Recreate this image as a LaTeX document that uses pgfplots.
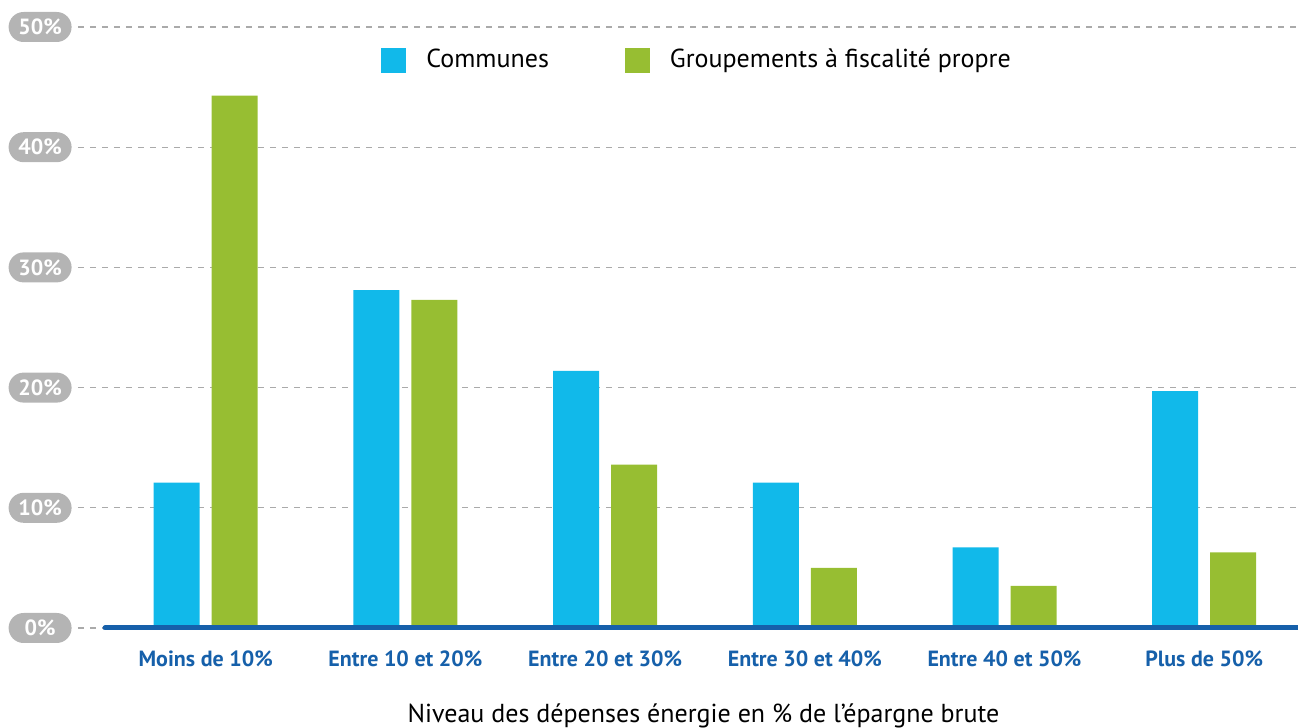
\documentclass[border=0pt]{standalone}
\usepackage{pgfplots}
\pgfplotsset{compat=1.18}
\usepackage{fontspec}
\setmainfont{PT Sans}
\definecolor{cblue}{RGB}{17,185,234}
\definecolor{cgreen}{RGB}{151,190,50}
\definecolor{dblue}{RGB}{22,96,170}
\definecolor{boxgrey}{RGB}{180,180,180}
\definecolor{gridgrey}{RGB}{170,170,170}
\begin{document}
\begin{tikzpicture}
\path[use as bounding box] (-39pt,-50pt) rectangle (610pt,314pt);
\begin{axis}[
  at={(0,0)}, anchor=south west,
  scale only axis, width=610pt, height=300.5pt,
  xmin=-0.6395, xmax=5.4697, ymin=0, ymax=50,
  axis line style={draw=none},
  clip=false,
  ybar, bar width=23pt,
  xtick={0,1,2,3,4,5},
  xticklabels={Moins de 10\%,Entre 10 et 20\%,Entre 20 et 30\%,Entre 30 et 40\%,Entre 40 et 50\%,Plus de 50\%},
  xticklabel style={font=\fontsize{11pt}{13pt}\selectfont\bfseries, text=dblue, anchor=north, inner sep=0pt, yshift=-11pt},
  ytick={0,10,20,30,40,50},
  yticklabels={0\%,10\%,20\%,30\%,40\%,50\%},
  yticklabel style={font=\fontsize{11pt}{13pt}\selectfont\bfseries, text=white, fill=boxgrey, rounded corners=7.5pt, minimum width=31.5pt, minimum height=15pt, inner sep=0pt, anchor=east, xshift=-3pt},
  major tick length=0pt, tick style={draw=none},
  ymajorgrids, grid style={gridgrey, line width=0.6pt, dash pattern=on 3pt off 3pt},
  xlabel={Niveau des dépenses énergie en \% de l’épargne brute},
  xlabel style={at={(axis description cs:0.5127,0)}, anchor=base, yshift=-47.5pt, font=\fontsize{13pt}{15pt}\selectfont},
  legend columns=2,
  legend style={at={(axis description cs:0.2484,0.945)}, anchor=west, draw=none, fill=none, inner sep=0pt,
    font=\fontsize{13pt}{15pt}\selectfont,
    nodes={inner sep=0pt, anchor=west},
    /tikz/every odd column/.append style={column sep=10pt},
    /tikz/every even column/.append style={column sep=38pt}},
  legend image code/.code={\fill[#1] (0pt,-6.25pt) rectangle (12.5pt,6.25pt);},
]
\addplot[fill=cblue, draw=none, bar shift=-14.5pt] coordinates {(0,12.1) (1,28.1) (2,21.4) (3,12.1) (4,6.7) (5,19.7)};
\addlegendentry{Communes}
\addplot[fill=cgreen, draw=none, bar shift=14.5pt] coordinates {(0,44.3) (1,27.3) (2,13.6) (3,5.0) (4,3.5) (5,6.3)};
\addlegendentry{Groupements à fiscalité propre}
\draw[dblue, line width=2.5pt, line cap=round] (axis cs:-0.504,0) -- (axis cs:5.4697,0);
\end{axis}
\end{tikzpicture}
\end{document}
